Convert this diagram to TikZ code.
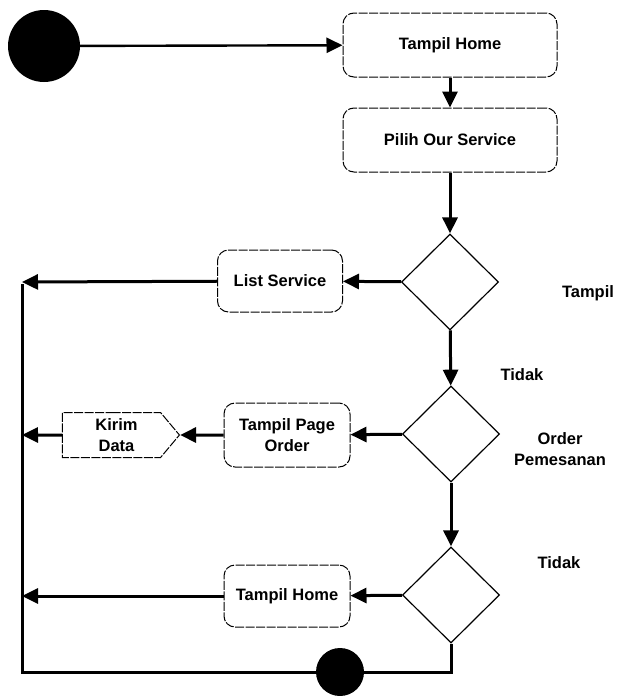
\documentclass[tikz,border=0pt]{standalone}
\usepackage{fontspec}
\setmainfont{Liberation Sans}
\usetikzlibrary{arrows.meta,shapes.geometric,shapes.symbols}
\begin{document}
\begin{tikzpicture}[x=1pt,y=-1pt,
  txt/.style={font=\fontsize{16.5}{21}\selectfont\bfseries, align=center},
  box/.style={draw, rounded corners=11pt, line width=1pt, dash pattern=on 9pt off 1.5pt,
    minimum width=214pt, minimum height=64pt, inner sep=0, txt},
  dec/.style={draw, diamond, line width=1.2pt, minimum width=97pt, minimum height=96pt, inner sep=0},
  flow/.style={line width=3pt, -{Triangle[length=16pt,width=15pt]}},
  wire/.style={line width=3pt, line join=miter}]
\useasboundingbox (0,0) rectangle (617,696);
\node[fill, circle, minimum size=72pt, inner sep=0] (start) at (44,46) {};
\node[box] (home) at (450,45) {Tampil Home};
\node[box] (pilih) at (450,140) {Pilih Our Service};
\node[dec] (d1) at (450,282) {};
\node[box, minimum width=125pt, minimum height=62pt] (list) at (280,281) {List Service};
\node[dec] (d2) at (451,434) {};
\node[box, minimum width=126pt, minimum height=64pt] (page) at (287,435) {Tampil Page\\Order};
\node[draw, signal, signal to=east, signal pointer angle=100, minimum width=117pt,
  minimum height=45pt, inner sep=0, line width=1pt, dash pattern=on 9pt off 1.5pt, txt,
  text depth=0pt]
  (kirim) at (111.5,435) {\hspace*{10pt}Kirim\\\hspace*{10pt}Data};
\node[dec] (d3) at (451,595) {};
\node[box, minimum width=126pt, minimum height=62pt] (home2) at (287,596) {Tampil Home};
\node[fill, circle, minimum size=48pt, inner sep=0] (end) at (340,672) {};
\node[txt] (t1) at (588,293) {Tampil};
\node[txt] (t2) at (522,375) {Tidak};
\node[txt] (t3) at (560,449) {Order\\Pemesanan};
\node[txt] (t4) at (559,563) {Tidak};
\coordinate (v1) at (22,282);
\coordinate (v2) at (22,435);
\coordinate (v3) at (22,596);
\coordinate (vb) at (22,672);
\coordinate (db) at (451,672);
\draw[flow, line width=2.4pt] (start) -- (home);
\draw[flow] (home) -- (pilih);
\draw[flow] (pilih) -- (d1);
\draw[flow] (d1) -- (list);
\draw[flow] (list) -- (v1);
\draw[flow] (d1) -- (d2);
\draw[flow] (d2) -- (page);
\draw[flow] (page) -- (kirim);
\draw[flow] (kirim) -- (v2);
\draw[flow] (d2) -- (d3);
\draw[flow] (d3) -- (home2);
\draw[flow] (home2) -- (v3);
\draw[wire] (d3.south) -- (db) -- (end);
\draw[wire] (end) -- (vb) -- ([yshift=-1.5pt]v1);
\end{tikzpicture}
\end{document}
